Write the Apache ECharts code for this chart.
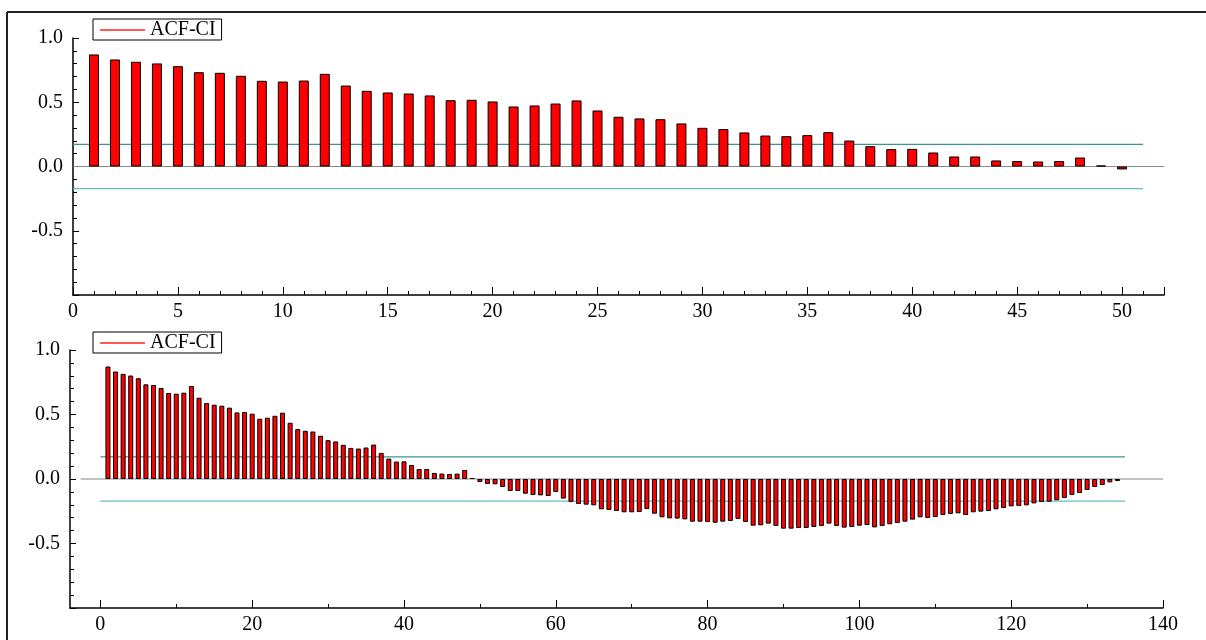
<!DOCTYPE html>
<html>
<head>
<meta charset="utf-8">
<script src="https://cdn.jsdelivr.net/npm/echarts@6/dist/echarts.min.js"></script>
<style>
html,body{margin:0;padding:0;background:#fff;}
#main{width:1206px;height:640px;}
</style>
</head>
<body>
<div id="main"></div>
<script>
// Autocorrelation values, lag 1..134
const acf = [
 0.872, 0.833, 0.815, 0.802, 0.781, 0.734, 0.729, 0.706, 0.667, 0.661,
 0.669, 0.721, 0.630, 0.589, 0.576, 0.568, 0.553, 0.516, 0.519, 0.506,
 0.467, 0.475, 0.490, 0.514, 0.436, 0.387, 0.374, 0.368, 0.335, 0.301,
 0.291, 0.265, 0.241, 0.236, 0.244, 0.267, 0.202, 0.158, 0.135, 0.137,
 0.109, 0.078, 0.078, 0.047, 0.042, 0.039, 0.042, 0.070, 0.008, -0.023,
 -0.039, -0.041, -0.062, -0.093, -0.093, -0.114, -0.124, -0.127, -0.132, -0.101,
 -0.152, -0.178, -0.194, -0.199, -0.204, -0.235, -0.240, -0.248, -0.258, -0.258,
 -0.256, -0.233, -0.269, -0.297, -0.305, -0.307, -0.313, -0.331, -0.331, -0.333,
 -0.339, -0.331, -0.326, -0.310, -0.333, -0.362, -0.359, -0.346, -0.364, -0.385,
 -0.385, -0.380, -0.380, -0.372, -0.364, -0.346, -0.364, -0.377, -0.372, -0.362,
 -0.357, -0.375, -0.364, -0.351, -0.341, -0.331, -0.315, -0.297, -0.302, -0.295,
 -0.279, -0.271, -0.266, -0.279, -0.258, -0.253, -0.248, -0.235, -0.225, -0.212,
 -0.209, -0.204, -0.189, -0.178, -0.176, -0.165, -0.147, -0.124, -0.109, -0.085,
 -0.062, -0.047, -0.026, -0.016
];
const topLagCount = 50;
const ciLevel = 0.172;
const ciTopX = [0, 51];
const ciBottomX = [0, 135];
const zeroTopX = [0, 52];
const zeroBottomX = [-2.6, 140];
const topXMajor = [0, 5, 10, 15, 20, 25, 30, 35, 40, 45, 50, 52];
const topXLabels = [0, 5, 10, 15, 20, 25, 30, 35, 40, 45, 50];
const topXMinor = [1,2,3,4,6,7,8,9,11,12,13,14,16,17,18,19,21,22,23,24,26,27,28,29,31,32,33,34,36,37,38,39,41,42,43,44,46,47,48,49,51];
const botXMajor = [0, 20, 40, 60, 80, 100, 120, 140];
const botXMinor = [10, 30, 50, 70, 90, 110, 130];
const legendName = 'ACF-CI';

const FONT = '"Liberation Serif", "Times New Roman", serif';
const FS = 20;
const topData = acf.slice(0, topLagCount).map((v, i) => [i + 1, v]);
const botData = acf.map((v, i) => [i + 1, v]);

function yAxis(gi) {
  return {
    type: 'value', gridIndex: gi, min: -1, max: 1, interval: 0.5,
    axisLine: {show: true, onZero: false, lineStyle: {color: '#000', width: 1.5}},
    axisTick: {show: true, inside: true, length: 6, lineStyle: {color: '#000'}},
    minorTick: {show: true, splitNumber: 5, length: 4, lineStyle: {color: '#000'}},
    splitLine: {show: false},
    axisLabel: {
      color: '#000', fontFamily: FONT, fontSize: FS, margin: 10,
      formatter: v => (v <= -0.99 ? '' : v.toFixed(1))
    }
  };
}
function xMajor(gi, min, max, ticks, labels) {
  return {
    type: 'value', gridIndex: gi, min: min, max: max, position: 'bottom',
    axisLine: {show: true, onZero: false, lineStyle: {color: '#000', width: 1.5}},
    axisTick: {show: true, inside: true, length: 8, customValues: ticks, lineStyle: {color: '#000'}},
    axisLabel: {color: '#000', fontFamily: FONT, fontSize: FS, margin: 7, customValues: labels},
    splitLine: {show: false}
  };
}
function xMinor(gi, min, max, ticks) {
  return {
    type: 'value', gridIndex: gi, min: min, max: max, position: 'bottom',
    axisLine: {show: false, onZero: false},
    axisTick: {show: true, inside: true, length: 4, customValues: ticks, lineStyle: {color: '#000'}},
    axisLabel: {show: false},
    splitLine: {show: false}
  };
}
function hLine(xi, yi, xs, y, color, w) {
  return {
    type: 'line', xAxisIndex: xi, yAxisIndex: yi, silent: true, symbol: 'none',
    data: [[xs[0], y], [xs[1], y]], lineStyle: {color: color, width: w}, z: 1
  };
}
function legend(top) {
  return {
    left: 93, top: top,
    data: [{name: legendName, icon: 'rect', itemStyle: {color: '#ff5a5a', borderWidth: 0}}],
    itemWidth: 45, itemHeight: 2, borderColor: '#000', borderWidth: 1, padding: [1, 6, 0, 7],
    backgroundColor: '#fff', textStyle: {color: '#000', fontFamily: FONT, fontSize: FS},
    selectedMode: false
  };
}

const chart = echarts.init(document.getElementById('main'), null, {renderer: 'canvas'});
chart.setOption({
  animation: false,
  backgroundColor: '#fff',
  grid: [
    {left: 73, right: 42, top: 38, height: 257},
    {left: 70, right: 43, top: 350, height: 258}
  ],
  legend: [legend(19), legend(332)],
  xAxis: [
    xMajor(0, 0, 52, topXMajor, topXLabels),
    xMinor(0, 0, 52, topXMinor),
    xMajor(1, -4, 140, botXMajor, botXMajor),
    xMinor(1, -4, 140, botXMinor)
  ],
  yAxis: [yAxis(0), yAxis(1)],
  graphic: [
    {type: 'line', shape: {x1: 7, y1: 12, x2: 1206, y2: 12}, style: {stroke: '#222', lineWidth: 2}, z: 100},
    {type: 'line', shape: {x1: 7, y1: 12, x2: 7, y2: 640}, style: {stroke: '#222', lineWidth: 2}, z: 100}
  ],
  series: [
    hLine(0, 0, zeroTopX, 0, '#888', 1),
    hLine(0, 0, ciTopX, ciLevel, '#3a9696', 1.3),
    hLine(0, 0, ciTopX, -ciLevel, '#66bdbd', 1.3),
    {
      name: legendName, type: 'bar', xAxisIndex: 0, yAxisIndex: 0, data: topData,
      barWidth: 10, itemStyle: {color: '#ff0000', borderColor: '#000', borderWidth: 1}, z: 2
    },
    hLine(2, 1, zeroBottomX, 0, '#888', 1),
    hLine(2, 1, ciBottomX, ciLevel, '#3a9696', 1.3),
    hLine(2, 1, ciBottomX, -ciLevel, '#66bdbd', 1.3),
    {
      name: legendName, type: 'bar', xAxisIndex: 2, yAxisIndex: 1, data: botData,
      barWidth: 5, itemStyle: {color: '#ff0000', borderColor: '#000', borderWidth: 1}, z: 2
    }
  ]
});
</script>
</body>
</html>
